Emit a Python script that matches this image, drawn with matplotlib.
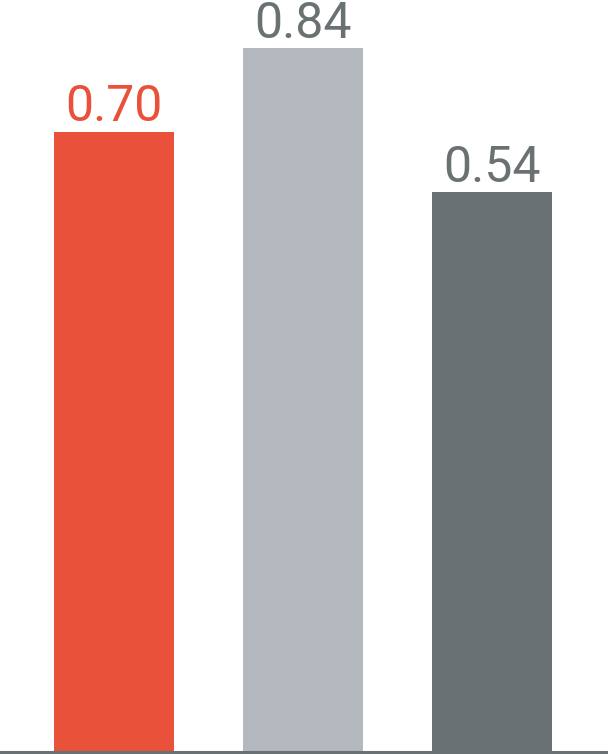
import matplotlib
matplotlib.use('Agg')
import matplotlib.pyplot as plt

# values shown on the bars
labels = ['0.70', '0.84', '0.54']
# bar heights as drawn (gray bar = 0.84)
heights = [0.740, 0.840, 0.668]
bar_colors = ['#E9513A', '#B4B8BF', '#6A7173']
label_colors = ['#E9513A', '#6A7173', '#6A7173']

plt.rcParams['font.family'] = ['Roboto', 'DejaVu Sans']

fig = plt.figure(figsize=(6.08, 7.54), dpi=100)
ax = fig.add_axes([0, 2/754, 1, 1 - 2/754])

x = list(range(len(heights)))
ax.bar(x, heights, width=0.635, color=bar_colors, zorder=1)

for xi, h, lab, c in zip(x, heights, labels, label_colors):
    ax.annotate(lab, (xi, h), xytext=(0, 7.5), textcoords='offset points',
                ha='center', va='baseline', fontsize=36, color=c)

ax.set_xlim(-114/189, (608-114)/189)
ax.set_ylim(0, 0.84*752/704)

for s in ['top', 'left', 'right']:
    ax.spines[s].set_visible(False)
ax.spines['bottom'].set_color('#6A7173')
ax.spines['bottom'].set_linewidth(2.2)
ax.spines['bottom'].set_zorder(3)
ax.set_xticks([])
ax.set_yticks([])

fig.savefig('out.png', dpi=100)
